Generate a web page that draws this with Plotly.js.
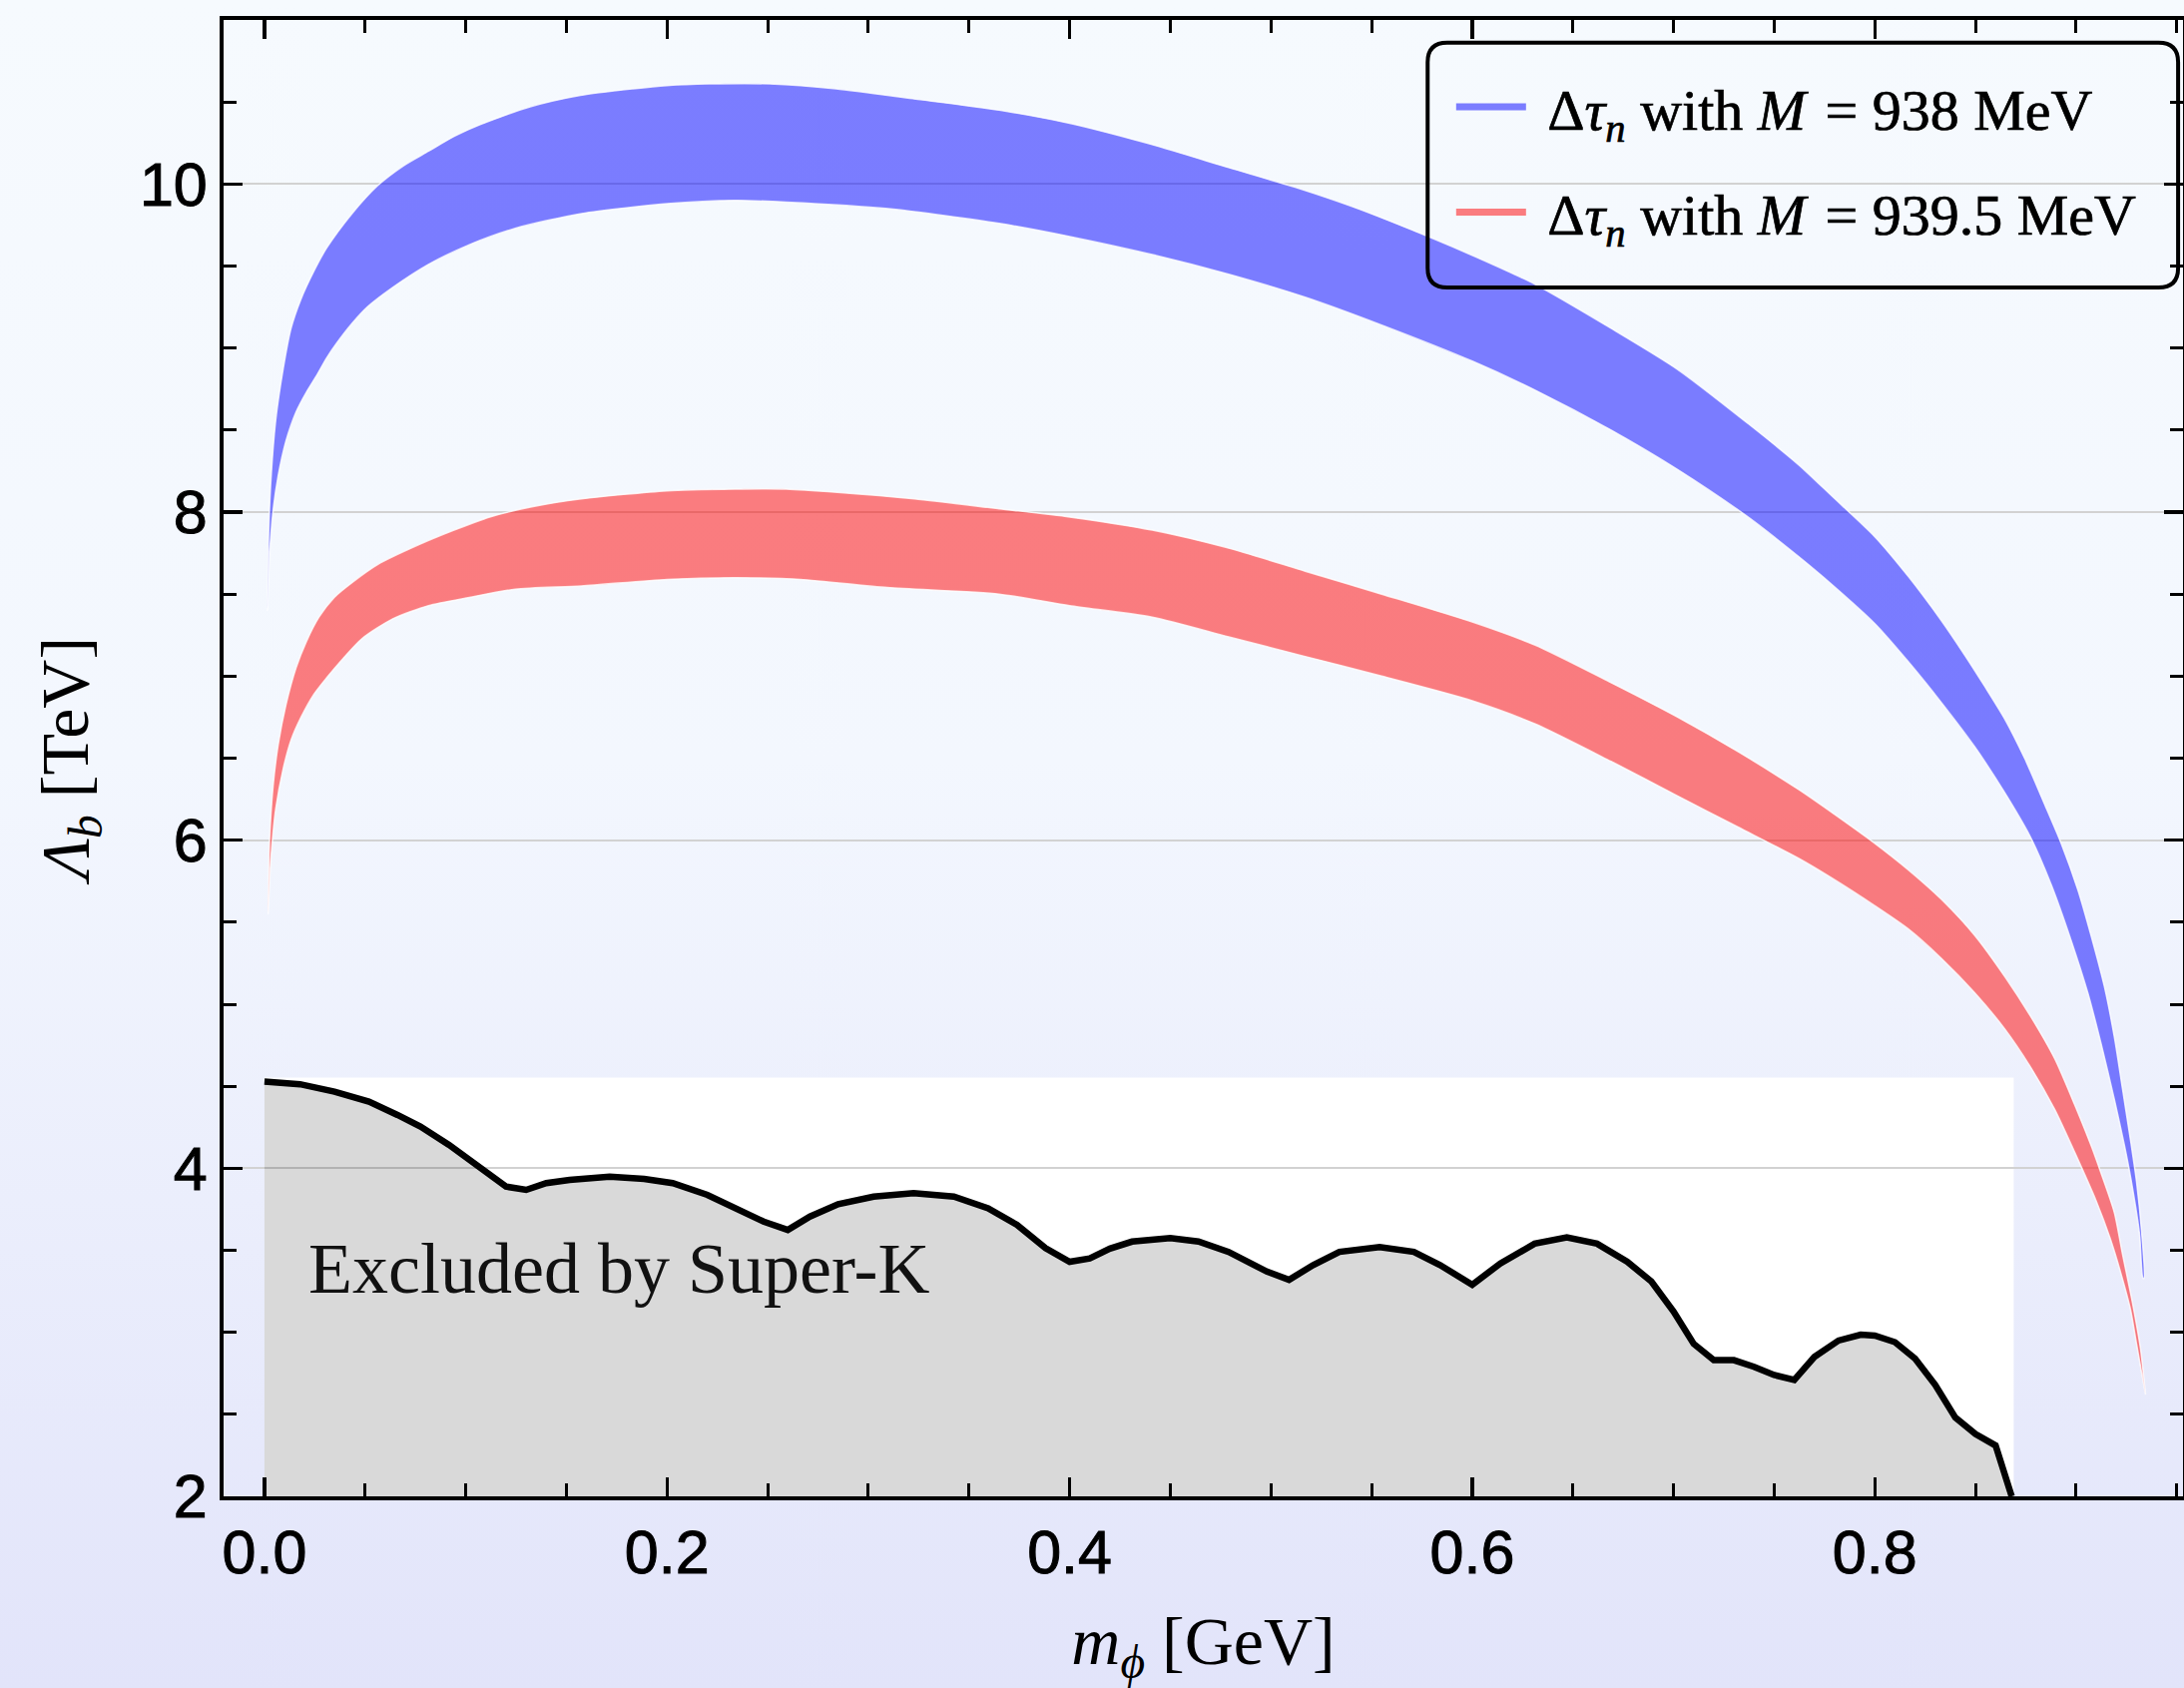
<!DOCTYPE html>
<html>
<head>
<meta charset="utf-8">
<script src="https://cdn.plot.ly/plotly-3.0.1.min.js"></script>
<style>
html, body { margin: 0; padding: 0; }
body { width: 2188px; height: 1691px; overflow: hidden;
  background: linear-gradient(180deg, #F6FAFE 0%, #F3F7FE 45%, #E2E4FA 100%); }
#chart { width: 2188px; height: 1691px; }
#chart .xtick text, #chart .ytick text { stroke: #000; stroke-width: 1.0px; }
#chart .legendtext { stroke: #000; stroke-width: 0.7px; }
</style>
</head>
<body>
<div id="chart"></div>
<script>
// ---- Data ----
const blueUpperX = [0.0015,0.0020,0.0030,0.0056,0.0094,0.0132,0.0182,0.0246,0.0309,0.0435,0.0562,0.0689,0.0815,0.0942,0.1068,0.132,0.157,0.183,0.200,0.221,0.251,0.284,0.322,0.365,0.400,0.441,0.479,0.512,0.542,0.580,0.600,0.631,0.669,0.702,0.737,0.762,0.7785,0.800,0.8165,0.833,0.8446,0.8545,0.8645,0.8744,0.8843,0.8926,0.9008,0.9074,0.914,0.919,0.9231,0.9273,0.930,0.9325,0.9338];
const blueUpperY = [7.40,7.83,8.15,8.56,8.88,9.12,9.30,9.47,9.61,9.82,9.99,10.11,10.20,10.29,10.36,10.47,10.54,10.58,10.60,10.61,10.61,10.58,10.52,10.45,10.37,10.24,10.10,9.98,9.855,9.67,9.565,9.39,9.12,8.87,8.54,8.29,8.10,7.85,7.61,7.34,7.13,6.94,6.74,6.50,6.22,5.98,5.70,5.42,5.11,4.80,4.48,4.15,3.92,3.62,3.33];
const blueLowerX = [0.0015,0.0025,0.0043,0.0068,0.0106,0.0157,0.0208,0.0258,0.0309,0.0359,0.0435,0.0511,0.0638,0.0815,0.1018,0.1246,0.1575,0.200,0.2337,0.2592,0.310,0.365,0.400,0.441,0.479,0.517,0.555,0.600,0.631,0.669,0.702,0.737,0.762,0.7785,0.800,0.8165,0.833,0.8496,0.8645,0.8777,0.8876,0.8975,0.9058,0.9124,0.919,0.924,0.9273,0.9315,0.9332];
const blueLowerY = [7.40,7.73,8.01,8.22,8.43,8.61,8.73,8.83,8.94,9.03,9.15,9.25,9.37,9.51,9.63,9.73,9.82,9.88,9.90,9.89,9.85,9.76,9.68,9.57,9.45,9.31,9.14,8.92,8.745,8.50,8.26,7.97,7.73,7.56,7.32,7.09,6.84,6.57,6.29,6.01,5.73,5.39,5.07,4.76,4.42,4.14,3.93,3.60,3.33];

const redUpperX = [0.0018,0.0025,0.0043,0.0068,0.0106,0.0157,0.0208,0.0271,0.0347,0.0435,0.0562,0.0765,0.0942,0.1119,0.1322,0.1575,0.200,0.2337,0.2592,0.2846,0.3228,0.365,0.400,0.441,0.479,0.517,0.555,0.600,0.631,0.669,0.702,0.732,0.762,0.7785,0.800,0.8165,0.833,0.8496,0.8645,0.8777,0.8893,0.8992,0.9074,0.9124,0.919,0.923,0.928,0.932,0.9345];
const redUpperY = [5.55,5.99,6.33,6.58,6.82,7.05,7.21,7.36,7.48,7.57,7.68,7.80,7.89,7.97,8.03,8.08,8.13,8.14,8.14,8.12,8.08,8.02,7.97,7.89,7.78,7.64,7.50,7.33,7.19,6.96,6.75,6.54,6.31,6.17,5.98,5.82,5.64,5.42,5.17,4.92,4.67,4.39,4.14,3.97,3.73,3.48,3.18,2.90,2.62];
const redLowerX = [0.0018,0.0030,0.0056,0.0094,0.0132,0.0182,0.0246,0.0309,0.0385,0.0486,0.0638,0.0815,0.1018,0.1246,0.1575,0.200,0.2334,0.2663,0.3094,0.365,0.400,0.441,0.479,0.517,0.555,0.600,0.631,0.669,0.702,0.732,0.762,0.7785,0.800,0.8165,0.833,0.8496,0.8645,0.8777,0.8893,0.8992,0.910,0.917,0.922,0.927,0.930,0.9345];
const redLowerY = [5.55,5.85,6.19,6.44,6.61,6.75,6.89,6.99,7.10,7.23,7.35,7.43,7.48,7.53,7.55,7.59,7.60,7.59,7.54,7.50,7.43,7.36,7.24,7.12,7.00,6.85,6.71,6.48,6.27,6.08,5.89,5.77,5.60,5.46,5.28,5.07,4.85,4.61,4.36,4.10,3.80,3.57,3.37,3.14,2.93,2.62];

const superKX = [0,0.0177,0.0348,0.0519,0.0661,0.0775,0.0917,0.103,0.1117,0.120,0.130,0.140,0.1516,0.1715,0.1886,0.2028,0.220,0.234,0.248,0.260,0.271,0.285,0.3026,0.3225,0.3425,0.3595,0.3738,0.388,0.400,0.410,0.420,0.431,0.450,0.464,0.479,0.498,0.509,0.521,0.534,0.554,0.571,0.584,0.600,0.614,0.631,0.647,0.662,0.677,0.689,0.700,0.710,0.720,0.730,0.740,0.750,0.760,0.770,0.782,0.793,0.800,0.810,0.820,0.830,0.840,0.850,0.860,0.868];
const superKY = [4.528,4.512,4.467,4.406,4.325,4.254,4.142,4.04,3.959,3.888,3.868,3.909,3.929,3.949,3.935,3.909,3.838,3.756,3.675,3.624,3.706,3.781,3.827,3.848,3.827,3.756,3.655,3.513,3.43,3.45,3.51,3.553,3.574,3.553,3.49,3.37,3.32,3.41,3.49,3.52,3.49,3.41,3.29,3.42,3.54,3.578,3.54,3.43,3.31,3.127,2.93,2.83,2.83,2.79,2.74,2.71,2.85,2.95,2.985,2.98,2.94,2.84,2.68,2.48,2.38,2.31,2.0];

// inset panel (white background of the Super-K curve), in data units
const panelX = [0, 0.869];
const panelY = [2, 4.552];

const seriesNames = ['\u2009\u200AΔ<i>τ</i><sub><i>n</i></sub> with <i>M</i> \u200A= 938 MeV',
                     '\u2009\u200AΔ<i>τ</i><sub><i>n</i></sub> with <i>M</i> \u200A= 939.5 MeV'];
const xTickVals = [0, 0.2, 0.4, 0.6, 0.8];
const xTickText = ['0.0', '0.2', '0.4', '0.6', '0.8'];
const yTickVals = [2, 4, 6, 8, 10];
const yTickText = ['2', '4', '6', '8', '10'];
const gridX = [0.2, 0.4, 0.6, 0.8];
const xRange = [-0.0203, 0.9531];
const yRange = [2, 11];

// ---- Build traces ----
function band(ux, uy, lx, ly) {
  return { x: ux.concat(lx.slice().reverse()), y: uy.concat(ly.slice().reverse()) };
}
const blueBand = band(blueUpperX, blueUpperY, blueLowerX, blueLowerY);
const redBand = band(redUpperX, redUpperY, redLowerX, redLowerY);

const BLUE = 'rgba(0,0,255,0.5)';
const RED = 'rgba(255,0,0,0.5)';
const EDGE = { color: 'rgba(255,255,255,0.8)', width: 1.5, shape: 'spline', smoothing: 0.7 };

const traces = [
  { x: superKX, y: superKY, type: 'scatter', mode: 'lines', fill: 'tozeroy',
    fillcolor: 'rgba(0,0,0,0.15)', line: { color: 'black', width: 6.5 }, showlegend: false, hoverinfo: 'skip' },
  { x: redBand.x, y: redBand.y, type: 'scatter', mode: 'lines', fill: 'toself',
    fillcolor: RED, line: EDGE, showlegend: false, hoverinfo: 'skip' },
  { x: blueBand.x, y: blueBand.y, type: 'scatter', mode: 'lines', fill: 'toself',
    fillcolor: BLUE, line: EDGE, showlegend: false, hoverinfo: 'skip' },
  { x: [null], y: [null], type: 'scatter', mode: 'lines', name: seriesNames[0],
    line: { color: BLUE, width: 7 }, legendgroup: 'a' },
  { x: [null], y: [null], type: 'scatter', mode: 'lines', name: seriesNames[1],
    line: { color: RED, width: 7 }, legendgroup: 'b' }
];

const tickFont = { family: 'Liberation Sans, Arial, sans-serif', size: 61, color: 'black' };
const serif = 'Liberation Serif, Times New Roman, serif';

// legend frame (rounded rectangle, paper coordinates)
const lb = { x0: 0.6145, x1: 0.9975, y0: 0.8188, y1: 0.9846, rx: 0.0100, ry: 0.0132 };
const legendPath = `M ${lb.x0+lb.rx},${lb.y1} L ${lb.x1-lb.rx},${lb.y1} Q ${lb.x1},${lb.y1} ${lb.x1},${lb.y1-lb.ry} ` +
  `L ${lb.x1},${lb.y0+lb.ry} Q ${lb.x1},${lb.y0} ${lb.x1-lb.rx},${lb.y0} L ${lb.x0+lb.rx},${lb.y0} ` +
  `Q ${lb.x0},${lb.y0} ${lb.x0},${lb.y0+lb.ry} L ${lb.x0},${lb.y1-lb.ry} Q ${lb.x0},${lb.y1} ${lb.x0+lb.rx},${lb.y1} Z`;

const layout = {
  width: 2188, height: 1691,
  margin: { l: 224, r: 1, t: 20, b: 192 },
  paper_bgcolor: 'rgba(0,0,0,0)',
  plot_bgcolor: 'rgba(0,0,0,0)',
  showlegend: true,
  legend: {
    x: 0.6265, y: 0.9710, xanchor: 'left', yanchor: 'top',
    bgcolor: 'rgba(0,0,0,0)', borderwidth: 0,
    font: { family: serif, size: 58, color: 'black' },
    itemwidth: 70, tracegroupgap: 27, traceorder: 'grouped'
  },
  xaxis: {
    range: xRange, tickvals: xTickVals, ticktext: xTickText,
    showgrid: false, zeroline: false,
    showline: true, linecolor: 'black', linewidth: 4, mirror: 'allticks',
    ticks: 'inside', ticklen: 19, tickwidth: 3.5, tickcolor: 'black',
    tickfont: tickFont,
    minor: { dtick: 0.05, tick0: 0, ticks: 'inside', ticklen: 13, tickwidth: 3, tickcolor: 'black', showgrid: false },
    title: { text: '<i>m</i><sub><i>ϕ</i></sub> [GeV]', font: { family: serif, size: 68, color: 'black' }, standoff: 40 }
  },
  xaxis2: {
    overlaying: 'x', anchor: 'y', range: xRange, tickvals: gridX,
    showgrid: true, gridcolor: '#D2D2D2', gridwidth: 2,
    showticklabels: false, ticks: '', showline: false, zeroline: false
  },
  yaxis: {
    range: yRange, tickvals: yTickVals, ticktext: yTickText,
    showgrid: true, gridcolor: '#D2D2D2', gridwidth: 2, zeroline: false,
    showline: true, linecolor: 'black', linewidth: 4, mirror: 'allticks',
    ticks: 'inside', ticklen: 19, tickwidth: 3.5, tickcolor: 'black',
    tickfont: tickFont,
    minor: { dtick: 0.5, tick0: 2, ticks: 'inside', ticklen: 13, tickwidth: 3, tickcolor: 'black', showgrid: false },
    title: { text: '<i>Λ</i><sub><i>b</i></sub> [TeV]', font: { family: serif, size: 68, color: 'black' }, standoff: 30 }
  },
  shapes: [
    { type: 'rect', xref: 'x', yref: 'y', x0: panelX[0], x1: panelX[1], y0: panelY[0], y1: panelY[1],
      fillcolor: 'white', line: { width: 0 }, layer: 'below' },
    { type: 'path', xref: 'paper', yref: 'paper', path: legendPath,
      line: { color: 'black', width: 4 }, fillcolor: 'rgba(0,0,0,0)', layer: 'above' }
  ],
  annotations: [
    { xref: 'x', yref: 'y', x: 0.0208, y: 3.388, xanchor: 'left', yanchor: 'middle',
      text: 'Excluded by Super-K', showarrow: false,
      font: { family: serif, size: 72, color: '#111111' } }
  ]
};

Plotly.newPlot('chart', traces, layout, { displayModeBar: false, staticPlot: true });
</script>
</body>
</html>
